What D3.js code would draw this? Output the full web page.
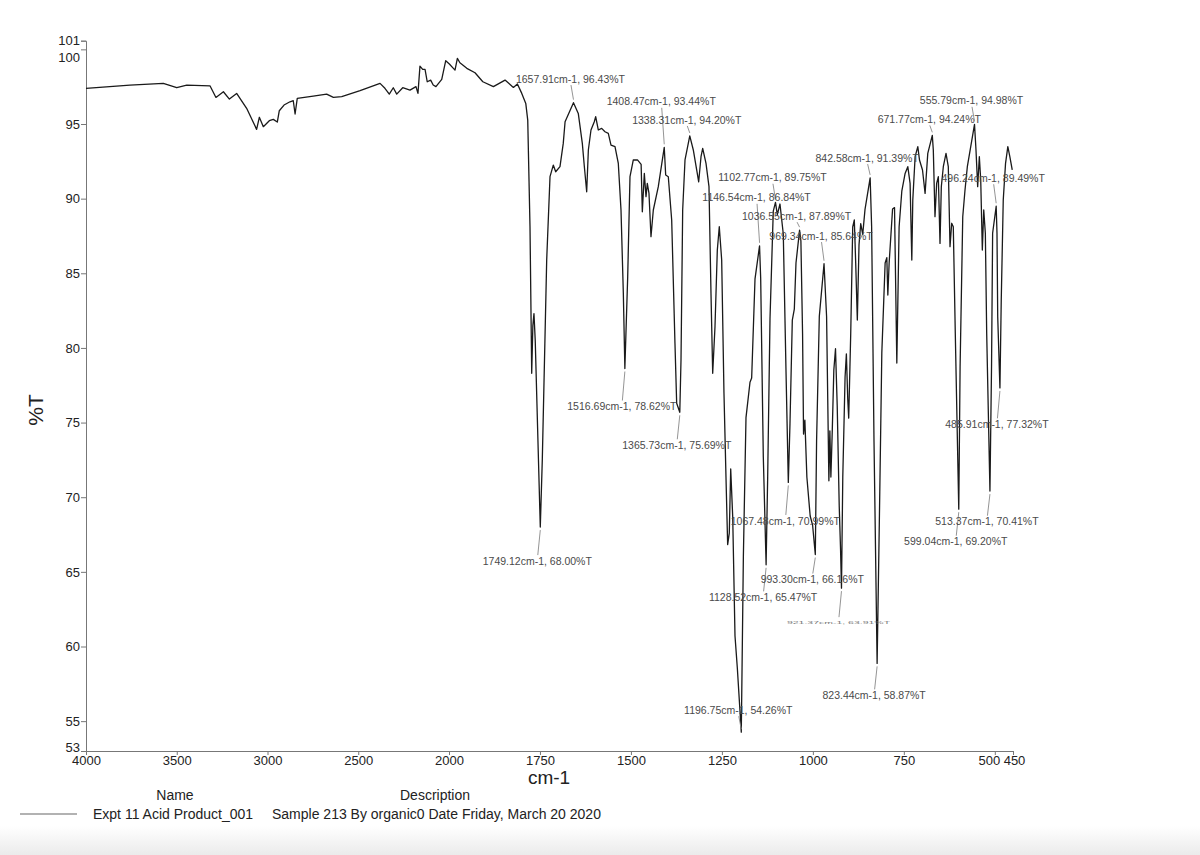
<!DOCTYPE html>
<html>
<head>
<meta charset="utf-8">
<script src="https://cdn.jsdelivr.net/npm/d3@7"></script>
<style>
  html, body { margin: 0; padding: 0; background: #fff; }
  svg { display: block; font-family: "Liberation Sans", Arial, sans-serif; }
</style>
</head>
<body>
<svg id="chart" width="1200" height="855"></svg>
<script>
// ---------------- DATA ----------------
const wavenumbers = [
  4000, 3758, 3574, 3500, 3445, 3317, 3284, 3243, 3210, 3170, 3115, 3060, 3045, 3023, 2990, 2968, 2946, 2935,
  2909, 2876, 2858, 2848, 2836, 2748, 2674, 2637, 2591, 2490, 2380, 2353, 2329, 2307, 2288, 2255, 2215, 2182,
  2171, 2160, 2145, 2132, 2120, 2101, 2087, 2072, 2040, 2018, 1999, 1988, 1983.5, 1977, 1970, 1951, 1928.5,
  1907, 1878, 1846, 1823, 1812, 1800, 1789, 1783.6, 1777.4, 1772.7, 1769.5, 1766.5, 1763, 1749.12, 1743.6,
  1731.5, 1722.4, 1713.4, 1706.8, 1695, 1686, 1681, 1657.91, 1644.7, 1633.6, 1628, 1621.6, 1617, 1609.8,
  1600.7, 1596.9, 1589.7, 1580.4, 1571.3, 1562.2, 1554.8, 1543.8, 1534.7, 1527.3, 1520.9, 1516.69, 1508.9,
  1502.6, 1493.5, 1482, 1472, 1468.7, 1463.2, 1458.6, 1455, 1450.4, 1444.9, 1438.5, 1424.8, 1408.47, 1404.5,
  1397.3, 1388, 1379, 1374.3, 1365.73, 1362.4, 1357.8, 1351.4, 1338.31, 1328.6, 1319.3, 1313.8, 1307.4,
  1302.8, 1293.7, 1285.5, 1280, 1275.3, 1269, 1262.6, 1257.2, 1250.6, 1244.3, 1238.8, 1234.2, 1229.7, 1225.8,
  1220.3, 1214, 1207.7, 1196.75, 1195.5, 1191, 1183.8, 1172.8, 1168.2, 1159, 1146.54, 1143.4, 1136.2, 1128.52,
  1124.2, 1117.8, 1108.8, 1102.77, 1097.7, 1090.4, 1081.3, 1073.9, 1067.48, 1062.9, 1056.5, 1051, 1046.4,
  1036.55, 1032.9, 1028.3, 1025.6, 1022, 1016.5, 1007.4, 1000.8, 993.30, 989.8, 982.3, 969.34, 962.3, 956,
  953.3, 950.5, 946.7, 942.4, 937.8, 933.1, 927.6, 924, 921.37, 917.8, 911.5, 907.9, 904.2, 901.5, 896, 890.5,
  886.1, 882.3, 877.8, 873.2, 868.5, 863, 856.7, 842.58, 838.5, 832, 823.44, 817, 810.5, 801.4, 796.8, 794,
  790.4, 781, 775.6, 769.3, 763, 755.6, 746.5, 739.1, 732.8, 728.1, 725.4, 719, 711.6, 707, 698.7, 691.6,
  684.2, 671.77, 669, 664.4, 659.8, 655.2, 650.6, 647, 641.5, 634.1, 627.8, 623.1, 618.5, 614.1, 608.6,
  599.04, 595.4, 588.1, 581.9, 575.5, 555.79, 551.7, 547.1, 542.5, 538.7, 534.3, 530.4, 526, 522.3, 513.37,
  509, 506, 496.24, 494, 492, 485.91, 482.3, 476.8, 470.5, 464.2, 458.7, 452.1
];
const transmittance = [
  97.39, 97.6, 97.72, 97.43, 97.6, 97.56, 96.78, 97.16, 96.67, 97.05, 96.05, 94.64, 95.45, 94.82, 95.22, 95.31, 95.13, 95.89,
  96.27, 96.49, 96.56, 95.67, 96.72, 96.87, 97.0, 96.78, 96.83, 97.23, 97.72, 97.39, 97.0, 97.43, 97.0, 97.43, 97.27, 97.5,
  97.05, 98.88, 98.66, 98.66, 97.83, 97.94, 97.61, 97.5, 97.99, 99.24, 99.02, 98.73, 98.61, 99.4, 99.1, 98.73, 98.43,
  97.83, 97.5, 97.94, 97.45, 97.68, 97.05, 96.38, 95.26, 88.12, 78.3, 81.5, 82.3, 80.5, 68.00, 72.5,
  85.9, 91.47, 92.25, 91.8, 92.14, 93.7, 95.15, 96.43, 95.71, 93.7, 92.14, 90.46, 93.26, 94.6,
  95.15, 95.49, 94.6, 94.71, 94.48, 94.37, 93.59, 93.48, 92.36, 89.24, 83.66, 78.62, 84.77,
  91.47, 92.59, 92.6, 92.3, 89.12, 91.69, 90.13, 91.02, 90.35, 87.45, 89.24, 90.8, 93.44, 91.58,
  91.47, 88.57, 80.31, 76.29, 75.69, 79.19, 89.24, 92.59, 94.20, 93.26, 91.92, 91.13, 92.81,
  93.37, 92.36, 90.8, 83.66, 78.3, 81.42, 86.56, 88.12, 85.89, 76.96, 71.35, 66.83, 67.6, 71.89,
  68.69, 60.7, 58.59, 54.26, 56.75, 66.03, 75.33, 77.7, 77.98, 84.63, 86.84, 84.63, 72.7, 65.47,
  71.35, 81.97, 89.17, 89.75, 88.93, 89.64, 87.63, 78.52, 70.99, 74.93, 81.87, 82.6, 85.69,
  87.89, 87.16, 80.93, 74.23, 75.17, 71.35, 68.74, 68.14, 66.16, 73.77, 82.11, 85.64, 82.11, 71.1,
  74.45, 71.35, 74.45, 78.52, 79.95, 76.13, 69.43, 66.56, 63.91, 71.35, 78.05, 79.6, 76.6, 75.3, 80.93, 88.1,
  88.57, 85.69, 81.87, 86.9, 88.33, 87.61, 89.28, 91.39, 88.1, 73.77, 58.87, 68.9, 79.7, 85.69, 86.05, 83.54,
  85.69, 89.3, 89.4, 78.99, 88.1, 90.5, 91.69, 92.14, 91.02, 85.89, 89.91, 92.81, 93.48, 92.59, 91.92, 90.35,
  93.03, 94.24, 93.26, 88.79, 91.02, 91.47, 87.0, 90.8, 92.14, 93.03, 92.14, 86.78, 88.35, 88.12, 80.98,
  69.20, 78.74, 88.79, 90.58, 92.14, 94.98, 93.26, 90.8, 92.81, 91.25, 86.56, 89.24, 87.68, 80.98, 70.41,
  78.74, 87.68, 89.49, 87.68, 82.09, 77.32, 83.21, 89.91, 92.36, 93.48, 92.81, 91.92
];

// peak annotations (wavenumber, %T)
const peakWn = [1657.91, 1408.47, 1338.31, 1102.77, 1146.54, 1036.55, 969.34, 842.58, 671.77, 555.79, 496.24,
                1749.12, 1516.69, 1365.73, 1196.75, 1128.52, 1067.48, 993.30, 921.37, 823.44, 599.04, 513.37, 485.91];
const peakT  = [96.43, 93.44, 94.20, 89.75, 86.84, 87.89, 85.64, 91.39, 94.24, 94.98, 89.49,
                68.00, 78.62, 75.69, 54.26, 65.47, 70.99, 66.16, 63.91, 58.87, 69.20, 70.41, 77.32];

const xTickValues = [4000, 3500, 3000, 2500, 2000, 1750, 1500, 1250, 1000, 750, 500, 450];
const yTickValues = [53, 55, 60, 65, 70, 75, 80, 85, 90, 95, 100, 100.58];
const yTickLabels = ["53", "55", "60", "65", "70", "75", "80", "85", "90", "95", "100", "101"];

const xTitle = "cm-1";
const yTitle = "%T";
const legendHeaders = ["Name", "Description"];
const legendName = "Expt 11 Acid Product_001";
const legendDesc = "Sample 213 By organic0 Date Friday, March 20 2020";

// ---------------- LAYOUT (label offsets in px, relative to the peak) ----------------
const labelDy = [-23.6, -45.5, -16, -24.6, -48, -14, -27.7, -19.8, -16, -23.5, -28,
                 34, 38, 33, -22, 32.5, 38.5, 25, 35, 32, 32.6, 30.6, 36.4];

// ---------------- DRAW ----------------
const svg = d3.select("#chart");
const W = 1200, H = 855;

const defs = svg.append("defs");
const grad = defs.append("linearGradient").attr("id", "bottomFade")
  .attr("x1", 0).attr("y1", 0).attr("x2", 0).attr("y2", 1);
grad.append("stop").attr("offset", "0%").attr("stop-color", "#ffffff");
grad.append("stop").attr("offset", "100%").attr("stop-color", "#ebebeb");

svg.append("rect").attr("width", W).attr("height", H).attr("fill", "#fff");
svg.append("rect").attr("x", 0).attr("y", 826).attr("width", W).attr("height", 29).attr("fill", "url(#bottomFade)");

const x = d3.scaleLinear().domain([4000, 2000, 450]).range([86, 449, 1013]);
const y = d3.scaleLinear().domain([53, 100.58]).range([751, 40.7]);

// axes
const yAxis = d3.axisLeft(y).tickValues(yTickValues).tickSize(5)
  .tickFormat((d, i) => yTickLabels[i]);
const gy = svg.append("g").attr("transform", "translate(86,0)").call(yAxis);
gy.select(".domain").attr("stroke", "#777");
gy.selectAll(".tick line").attr("stroke", "#777");
gy.selectAll(".tick text").attr("font-size", 13).attr("fill", "#222")
  .attr("font-family", "Liberation Sans, Arial, sans-serif").attr("x", -6)
  .attr("dy", (d) => d === 100 ? "0.95em" : (d === 53 ? "0.0em" : "0.32em"));

const xAxis = d3.axisBottom(x).tickValues(xTickValues).tickSize(4).tickFormat(d3.format("d"));
const gx = svg.append("g").attr("transform", "translate(0,751)").call(xAxis);
gx.select(".domain").attr("stroke", "#777");
gx.selectAll(".tick line").attr("stroke", "#777");
gx.selectAll(".tick text").attr("font-size", 13).attr("fill", "#222")
  .attr("font-family", "Liberation Sans, Arial, sans-serif").attr("y", 5)
  .attr("dx", d => d === 500 ? -6 : (d === 450 ? 1 : 0));

// titles
svg.append("text").attr("x", 549).attr("y", 784).attr("text-anchor", "middle")
  .attr("font-size", 19).attr("fill", "#222").text(xTitle);
svg.append("text").attr("transform", "translate(43,410) rotate(-90)").attr("text-anchor", "middle")
  .attr("font-size", 21).attr("fill", "#222").text(yTitle);

// spectrum
const pts = wavenumbers.map((w, i) => [w, transmittance[i]]);
const line = d3.line().x(d => x(d[0])).y(d => y(d[1]));
svg.append("path").datum(pts).attr("d", line).attr("fill", "none")
  .attr("stroke", "#1a1a1a").attr("stroke-width", 1.3).attr("stroke-linejoin", "round");

// annotations
const ann = svg.append("g");
peakWn.forEach((w, i) => {
  const px = x(w), py = y(peakT[i]);
  const tx = px - 3, ty = py + labelDy[i];
  const below = labelDy[i] > 0;
  const label = `${w.toFixed(2)}cm-1, ${peakT[i].toFixed(2)}%T`;
  ann.append("line")
    .attr("x1", px).attr("y1", below ? py + 3 : py - 3)
    .attr("x2", tx + 0.5).attr("y2", below ? ty - 6 : ty + 6)
    .attr("stroke", "#888").attr("stroke-width", 0.9);
  if (w === 921.37) {
    ann.append("text").attr("transform", `translate(${tx},${ty}) scale(1,0.35)`)
      .attr("text-anchor", "middle").attr("dy", "0.35em")
      .attr("font-size", 10.5).attr("fill", "#777").text(label);
  } else {
    ann.append("text").attr("x", tx).attr("y", ty).attr("dy", "0.35em")
      .attr("text-anchor", "middle").attr("font-size", 10.5).attr("fill", "#4a4a4a").text(label);
  }
});

// legend
const lg = svg.append("g").attr("font-size", 14).attr("fill", "#222");
lg.append("text").attr("x", 175).attr("y", 800).attr("text-anchor", "middle").text(legendHeaders[0]);
lg.append("text").attr("x", 435).attr("y", 800).attr("text-anchor", "middle").text(legendHeaders[1]);
lg.append("line").attr("x1", 20).attr("x2", 77).attr("y1", 814).attr("y2", 814)
  .attr("stroke", "#666").attr("stroke-width", 1.2);
lg.append("text").attr("x", 93).attr("y", 819).text(legendName);
lg.append("text").attr("x", 272).attr("y", 819).text(legendDesc);
</script>
</body>
</html>
